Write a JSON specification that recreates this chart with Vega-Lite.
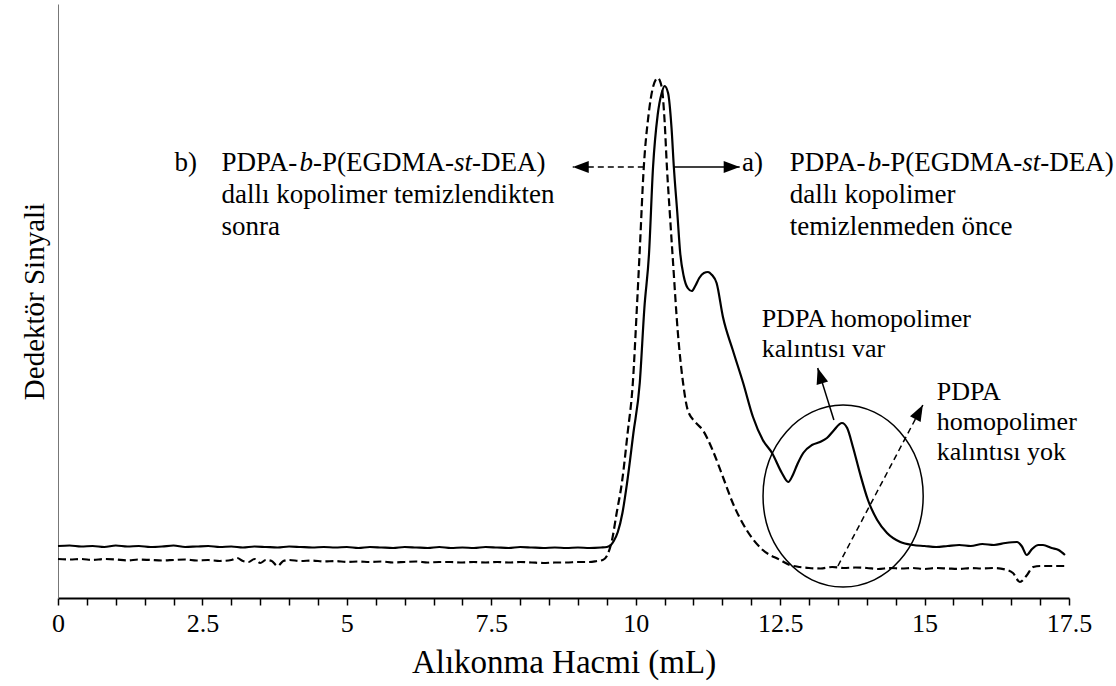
{
  "$schema": "https://vega.github.io/schema/vega-lite/v6.json",
  "width": 1011,
  "height": 594,
  "autosize": {"type": "none"},
  "padding": {"left": 58, "top": 4, "right": 47, "bottom": 88},
  "background": "white",
  "config": {
    "view": {"stroke": null},
    "font": "Liberation Serif, Times New Roman, serif",
    "text": {"font": "Liberation Serif, Times New Roman, serif", "color": "black", "align": "left", "baseline": "alphabetic"}
  },
  "datasets": {
    "afterCleanup": [
      {"v": 0, "s": 39}, {"v": 0.2, "s": 38.5}, {"v": 0.4, "s": 39}, {"v": 0.6, "s": 38}, {"v": 0.8, "s": 39},
      {"v": 1.0, "s": 38.5}, {"v": 1.2, "s": 37.5}, {"v": 1.4, "s": 38.5}, {"v": 1.6, "s": 38}, {"v": 1.8, "s": 37.5},
      {"v": 2.0, "s": 38}, {"v": 2.2, "s": 38.5}, {"v": 2.4, "s": 37.5}, {"v": 2.6, "s": 38}, {"v": 2.8, "s": 37},
      {"v": 3.0, "s": 38}, {"v": 3.1, "s": 40}, {"v": 3.2, "s": 37}, {"v": 3.3, "s": 36}, {"v": 3.4, "s": 39},
      {"v": 3.5, "s": 35}, {"v": 3.6, "s": 38}, {"v": 3.7, "s": 37}, {"v": 3.8, "s": 32}, {"v": 3.9, "s": 37},
      {"v": 4.0, "s": 38}, {"v": 4.2, "s": 37}, {"v": 4.4, "s": 37.5}, {"v": 4.6, "s": 36.5}, {"v": 4.8, "s": 37},
      {"v": 5.0, "s": 36}, {"v": 5.2, "s": 36.5}, {"v": 5.4, "s": 36}, {"v": 5.6, "s": 36.5}, {"v": 5.8, "s": 35.5},
      {"v": 6.0, "s": 36}, {"v": 6.2, "s": 36.5}, {"v": 6.4, "s": 35.5}, {"v": 6.6, "s": 36}, {"v": 6.8, "s": 36},
      {"v": 7.0, "s": 35.5}, {"v": 7.2, "s": 36}, {"v": 7.4, "s": 35.5}, {"v": 7.6, "s": 36}, {"v": 7.8, "s": 35.5},
      {"v": 8.0, "s": 36}, {"v": 8.2, "s": 35.5}, {"v": 8.4, "s": 35}, {"v": 8.6, "s": 35.5}, {"v": 8.8, "s": 35.5},
      {"v": 9.0, "s": 36}, {"v": 9.2, "s": 36}, {"v": 9.33, "s": 37}, {"v": 9.43, "s": 38}, {"v": 9.5, "s": 42},
      {"v": 9.59, "s": 58}, {"v": 9.67, "s": 85}, {"v": 9.76, "s": 115}, {"v": 9.86, "s": 165}, {"v": 9.95, "s": 215},
      {"v": 10.02, "s": 290}, {"v": 10.07, "s": 348}, {"v": 10.14, "s": 431}, {"v": 10.22, "s": 482}, {"v": 10.3, "s": 511},
      {"v": 10.38, "s": 520}, {"v": 10.45, "s": 511}, {"v": 10.5, "s": 477}, {"v": 10.54, "s": 431}, {"v": 10.59, "s": 385},
      {"v": 10.64, "s": 341}, {"v": 10.73, "s": 265}, {"v": 10.82, "s": 215}, {"v": 10.9, "s": 188}, {"v": 11.03, "s": 176},
      {"v": 11.16, "s": 168}, {"v": 11.33, "s": 148}, {"v": 11.51, "s": 121}, {"v": 11.68, "s": 95}, {"v": 11.92, "s": 68},
      {"v": 12.2, "s": 48}, {"v": 12.5, "s": 38}, {"v": 12.67, "s": 33}, {"v": 12.84, "s": 31}, {"v": 13.0, "s": 30},
      {"v": 13.2, "s": 29.5}, {"v": 13.4, "s": 31}, {"v": 13.6, "s": 30}, {"v": 13.8, "s": 30.5}, {"v": 14.0, "s": 30},
      {"v": 14.2, "s": 29}, {"v": 14.4, "s": 30}, {"v": 14.6, "s": 29.5}, {"v": 14.8, "s": 30}, {"v": 15.0, "s": 29},
      {"v": 15.2, "s": 30}, {"v": 15.4, "s": 29.5}, {"v": 15.6, "s": 29}, {"v": 15.8, "s": 30}, {"v": 16.0, "s": 29.5},
      {"v": 16.2, "s": 30}, {"v": 16.43, "s": 28}, {"v": 16.53, "s": 25}, {"v": 16.65, "s": 16}, {"v": 16.76, "s": 22},
      {"v": 16.88, "s": 31}, {"v": 17.0, "s": 32}, {"v": 17.2, "s": 32}, {"v": 17.45, "s": 32}
    ],
    "beforeCleanup": [
      {"v": 0, "s": 52}, {"v": 0.2, "s": 52.5}, {"v": 0.4, "s": 51.5}, {"v": 0.6, "s": 52}, {"v": 0.8, "s": 51},
      {"v": 1.0, "s": 52.5}, {"v": 1.2, "s": 51.5}, {"v": 1.4, "s": 52}, {"v": 1.6, "s": 51}, {"v": 1.8, "s": 51.5},
      {"v": 2.0, "s": 52.5}, {"v": 2.2, "s": 51}, {"v": 2.4, "s": 51.5}, {"v": 2.6, "s": 52}, {"v": 2.8, "s": 51},
      {"v": 3.0, "s": 51.5}, {"v": 3.2, "s": 50.5}, {"v": 3.4, "s": 51.5}, {"v": 3.6, "s": 51}, {"v": 3.8, "s": 50.5},
      {"v": 4.0, "s": 51.5}, {"v": 4.2, "s": 51}, {"v": 4.4, "s": 50.5}, {"v": 4.6, "s": 51}, {"v": 4.8, "s": 50.5},
      {"v": 5.0, "s": 51}, {"v": 5.2, "s": 50}, {"v": 5.4, "s": 51}, {"v": 5.6, "s": 50.5}, {"v": 5.8, "s": 50},
      {"v": 6.0, "s": 51}, {"v": 6.2, "s": 50.5}, {"v": 6.4, "s": 50}, {"v": 6.6, "s": 51}, {"v": 6.8, "s": 50},
      {"v": 7.0, "s": 50.5}, {"v": 7.2, "s": 50}, {"v": 7.4, "s": 51}, {"v": 7.6, "s": 50.5}, {"v": 7.8, "s": 50},
      {"v": 8.0, "s": 51}, {"v": 8.2, "s": 50.5}, {"v": 8.4, "s": 50}, {"v": 8.6, "s": 50.5}, {"v": 8.8, "s": 50},
      {"v": 9.0, "s": 50.5}, {"v": 9.2, "s": 50}, {"v": 9.4, "s": 50.5}, {"v": 9.5, "s": 51}, {"v": 9.57, "s": 53},
      {"v": 9.62, "s": 57}, {"v": 9.69, "s": 66}, {"v": 9.77, "s": 85}, {"v": 9.85, "s": 115}, {"v": 9.96, "s": 165},
      {"v": 10.07, "s": 215}, {"v": 10.15, "s": 290}, {"v": 10.23, "s": 344}, {"v": 10.3, "s": 431}, {"v": 10.38, "s": 483},
      {"v": 10.45, "s": 505}, {"v": 10.5, "s": 512}, {"v": 10.56, "s": 505}, {"v": 10.62, "s": 470}, {"v": 10.66, "s": 431},
      {"v": 10.72, "s": 385}, {"v": 10.77, "s": 345}, {"v": 10.83, "s": 322}, {"v": 10.9, "s": 310}, {"v": 10.97, "s": 307},
      {"v": 11.03, "s": 312}, {"v": 11.1, "s": 320}, {"v": 11.18, "s": 325}, {"v": 11.25, "s": 326}, {"v": 11.32, "s": 323},
      {"v": 11.4, "s": 315}, {"v": 11.51, "s": 281}, {"v": 11.68, "s": 248}, {"v": 11.86, "s": 215}, {"v": 12.03, "s": 181},
      {"v": 12.2, "s": 158}, {"v": 12.36, "s": 145}, {"v": 12.53, "s": 125}, {"v": 12.64, "s": 116}, {"v": 12.72, "s": 123},
      {"v": 12.8, "s": 134}, {"v": 12.9, "s": 145}, {"v": 13.05, "s": 153}, {"v": 13.19, "s": 156}, {"v": 13.31, "s": 160},
      {"v": 13.42, "s": 167}, {"v": 13.57, "s": 175}, {"v": 13.66, "s": 170}, {"v": 13.76, "s": 151}, {"v": 13.88, "s": 125},
      {"v": 14.02, "s": 98}, {"v": 14.18, "s": 78}, {"v": 14.35, "s": 65}, {"v": 14.58, "s": 56}, {"v": 14.8, "s": 53},
      {"v": 15.0, "s": 52}, {"v": 15.2, "s": 51}, {"v": 15.4, "s": 52}, {"v": 15.6, "s": 53}, {"v": 15.8, "s": 52},
      {"v": 16.0, "s": 54}, {"v": 16.2, "s": 53}, {"v": 16.4, "s": 55}, {"v": 16.6, "s": 56}, {"v": 16.68, "s": 52},
      {"v": 16.77, "s": 43}, {"v": 16.86, "s": 49}, {"v": 16.97, "s": 53}, {"v": 17.05, "s": 53}, {"v": 17.2, "s": 50},
      {"v": 17.32, "s": 48}, {"v": 17.43, "s": 43}
    ],
    "arrows": [
      {"id": "a", "series": "before", "v": 10.66, "s": 431, "v2": 11.8, "s2": 431},
      {"id": "b", "series": "after", "v": 10.14, "s": 431, "v2": 8.91, "s2": 431},
      {"id": "var", "series": "before", "v": 13.43, "s": 178, "v2": 13.15, "s2": 230},
      {"id": "yok", "series": "after", "v": 13.5, "s": 32, "v2": 14.97, "s2": 193}
    ],
    "residueRegion": [{"v": 13.59, "s": 102}],
    "markers": [{"v": 2.018, "s": 427, "t": "b)"}, {"v": 11.838, "s": 427, "t": "a)"}],
    "copolymerName": [{"v": 2.832, "s": 427}, {"v": 12.668, "s": 427}],
    "copolymerNotes": [
      {"v": 2.832, "s": 395, "t": ["dallı kopolimer temizlendikten", "sonra"]},
      {"v": 12.668, "s": 395, "t": ["dallı kopolimer", "temizlenmeden önce"]}
    ],
    "residueNotes": [
      {"v": 12.18, "s": 271, "t": ["PDPA homopolimer", "kalıntısı var"]},
      {"v": 15.21, "s": 198, "t": ["PDPA", "homopolimer", "kalıntısı yok"]}
    ]
  },
  "encoding": {
    "x": {
      "field": "v", "type": "quantitative",
      "scale": {"domain": [0, 17.5], "nice": false, "zero": false},
      "axis": {
        "title": "Alıkonma Hacmi (mL)",
        "values": [0, 0.5, 1, 1.5, 2, 2.5, 3, 3.5, 4, 4.5, 5, 5.5, 6, 6.5, 7, 7.5, 8, 8.5, 9, 9.5, 10, 10.5, 11, 11.5, 12, 12.5, 13, 13.5, 14, 14.5, 15, 15.5, 16, 16.5, 17, 17.5],
        "labelExpr": "datum.value % 2.5 === 0 ? datum.label : ''",
        "format": "~g",
        "labelOverlap": false,
        "labelFlush": false,
        "labelFont": "Liberation Serif, Times New Roman, serif",
        "labelFontSize": 26,
        "labelColor": "black",
        "labelPadding": 5,
        "tickColor": "black",
        "tickWidth": 1.5,
        "tickSize": 7,
        "encode": {"ticks": {"update": {"y2": {"signal": "datum.value % 2.5 === 0 ? 7 : 4"}}}},
        "domainColor": "black",
        "domainWidth": 2,
        "grid": false,
        "titleFont": "Liberation Serif, Times New Roman, serif",
        "titleFontSize": 33,
        "titleFontWeight": "normal",
        "titleColor": "black",
        "titlePadding": 10
      }
    },
    "y": {
      "field": "s", "type": "quantitative",
      "scale": {"domain": [0, 594], "nice": false, "zero": true},
      "axis": {
        "title": "Dedektör Sinyali",
        "ticks": false,
        "labels": false,
        "grid": false,
        "domainColor": "#777777",
        "domainWidth": 1,
        "titleFont": "Liberation Serif, Times New Roman, serif",
        "titleFontSize": 29,
        "titleFontWeight": "normal",
        "titleColor": "black",
        "titlePadding": 9
      }
    }
  },
  "layer": [
    {
      "data": {"name": "beforeCleanup"},
      "mark": {"type": "line", "color": "black", "strokeWidth": 2.2, "interpolate": "monotone", "strokeJoin": "round"}
    },
    {
      "data": {"name": "afterCleanup"},
      "mark": {"type": "line", "color": "black", "strokeWidth": 2.2, "interpolate": "monotone", "strokeDash": [8, 4]}
    },
    {
      "data": {"name": "arrows"},
      "transform": [{"filter": "datum.series === 'before'"}],
      "mark": {"type": "rule", "color": "black", "strokeWidth": 1.5},
      "encoding": {"x2": {"field": "v2"}, "y2": {"field": "s2"}}
    },
    {
      "data": {"name": "arrows"},
      "transform": [{"filter": "datum.series === 'after'"}],
      "mark": {"type": "rule", "color": "black", "strokeWidth": 1.5, "strokeDash": [6, 4]},
      "encoding": {"x2": {"field": "v2"}, "y2": {"field": "s2"}}
    },
    {
      "data": {"name": "arrows"},
      "transform": [{"filter": "datum.id === 'a'"}],
      "mark": {"type": "point", "shape": "M0,0L-1.2,3.2L1.2,3.2Z", "size": 100, "filled": true, "color": "black", "opacity": 1, "strokeWidth": 0, "angle": 90},
      "encoding": {"x": {"field": "v2", "type": "quantitative"}, "y": {"field": "s2", "type": "quantitative"}}
    },
    {
      "data": {"name": "arrows"},
      "transform": [{"filter": "datum.id === 'b'"}],
      "mark": {"type": "point", "shape": "M0,0L-1.2,3.2L1.2,3.2Z", "size": 100, "filled": true, "color": "black", "opacity": 1, "strokeWidth": 0, "angle": 270},
      "encoding": {"x": {"field": "v2", "type": "quantitative"}, "y": {"field": "s2", "type": "quantitative"}}
    },
    {
      "data": {"name": "arrows"},
      "transform": [{"filter": "datum.id === 'var'"}],
      "mark": {"type": "point", "shape": "M0,0L-1.2,3.2L1.2,3.2Z", "size": 100, "filled": true, "color": "black", "opacity": 1, "strokeWidth": 0, "angle": 343},
      "encoding": {"x": {"field": "v2", "type": "quantitative"}, "y": {"field": "s2", "type": "quantitative"}}
    },
    {
      "data": {"name": "arrows"},
      "transform": [{"filter": "datum.id === 'yok'"}],
      "mark": {"type": "point", "shape": "M0,0L-1.2,3.2L1.2,3.2Z", "size": 100, "filled": true, "color": "black", "opacity": 1, "strokeWidth": 0, "angle": 28},
      "encoding": {"x": {"field": "v2", "type": "quantitative"}, "y": {"field": "s2", "type": "quantitative"}}
    },
    {
      "data": {"name": "residueRegion"},
      "mark": {"type": "point", "shape": "M-0.88,0A0.88,1,0,1,0,0.88,0A0.88,1,0,1,0,-0.88,0Z", "size": 33124, "filled": false, "color": "black", "opacity": 1, "strokeWidth": 1.5}
    },
    {
      "data": {"name": "markers"},
      "mark": {"type": "text", "font": "Liberation Serif, Times New Roman, serif", "fontSize": 27, "align": "left", "baseline": "alphabetic", "color": "black"},
      "encoding": {"text": {"field": "t"}}
    },
    {
      "data": {"name": "copolymerName"},
      "mark": {"type": "text", "font": "Liberation Serif, Times New Roman, serif", "fontSize": 27, "align": "left", "baseline": "alphabetic", "color": "black", "text": "PDPA-"}
    },
    {
      "data": {"name": "copolymerName"},
      "mark": {"type": "text", "font": "Liberation Serif, Times New Roman, serif", "fontSize": 27, "align": "left", "baseline": "alphabetic", "color": "black", "fontStyle": "italic", "text": "b", "dx": 78}
    },
    {
      "data": {"name": "copolymerName"},
      "mark": {"type": "text", "font": "Liberation Serif, Times New Roman, serif", "fontSize": 27, "align": "left", "baseline": "alphabetic", "color": "black", "text": "-P(EGDMA-", "dx": 91.5}
    },
    {
      "data": {"name": "copolymerName"},
      "mark": {"type": "text", "font": "Liberation Serif, Times New Roman, serif", "fontSize": 27, "align": "left", "baseline": "alphabetic", "color": "black", "fontStyle": "italic", "text": "st", "dx": 232.5}
    },
    {
      "data": {"name": "copolymerName"},
      "mark": {"type": "text", "font": "Liberation Serif, Times New Roman, serif", "fontSize": 27, "align": "left", "baseline": "alphabetic", "color": "black", "text": "-DEA)", "dx": 250.5}
    },
    {
      "data": {"name": "copolymerNotes"},
      "mark": {"type": "text", "font": "Liberation Serif, Times New Roman, serif", "fontSize": 27, "align": "left", "baseline": "alphabetic", "color": "black", "lineHeight": 32},
      "encoding": {"text": {"field": "t"}}
    },
    {
      "data": {"name": "residueNotes"},
      "mark": {"type": "text", "font": "Liberation Serif, Times New Roman, serif", "fontSize": 26, "align": "left", "baseline": "alphabetic", "color": "black", "lineHeight": 30},
      "encoding": {"text": {"field": "t"}}
    }
  ]
}
